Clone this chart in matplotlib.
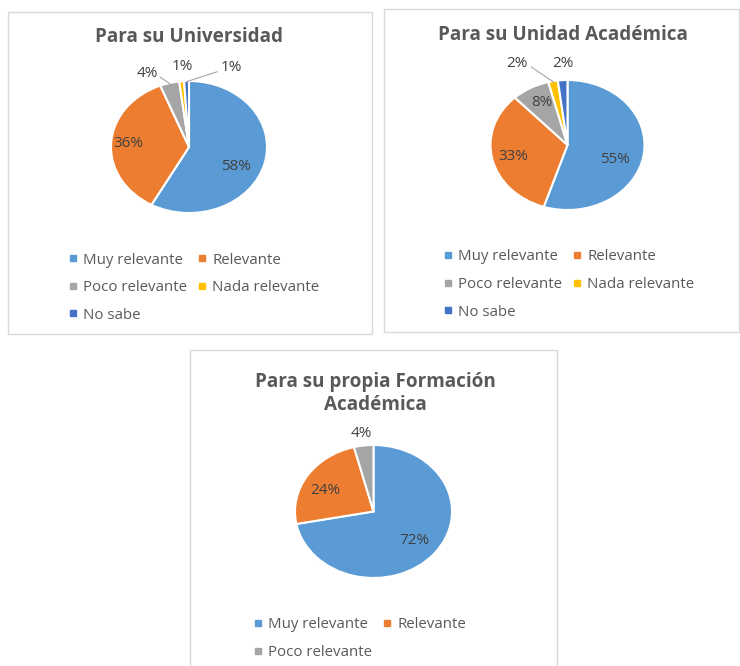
import numpy as np
import matplotlib
matplotlib.use("Agg")
import matplotlib.pyplot as plt
from matplotlib.patches import Rectangle
from matplotlib.lines import Line2D

plt.rcParams['font.family'] = ['Open Sans', 'DejaVu Sans']

# ---------------- data ----------------
categories = ["Muy relevante", "Relevante", "Poco relevante", "Nada relevante", "No sabe"]
colors = ["#5B9BD5", "#ED7D31", "#A5A5A5", "#FFC000", "#4472C4"]

titles = ["Para su Universidad",
          "Para su Unidad Académica",
          "Para su propia Formación\nAcadémica"]
universidad = [58, 36, 4, 1, 1]
unidad = [55, 33, 8, 2, 2]
formacion = [72, 24, 4]

# ---------------- layout (pixels, top-left origin) ----------------
W, H = 740, 666
TXT = "#404040"
TTL = "#595959"

panels = [
    dict(values=universidad, title=titles[0],
         box=(8, 12, 372, 334), title_xy=(189, 37),
         center=(189, 147), r=(78, 66),
         labels=[(0.60, -0.29), (-0.78, 0.05), (-0.54, 1.12), (-0.08, 1.22), (0.54, 1.20)],
         leaders=[None, None, (-0.37, 1.06), None, (0.36, 1.14)],
         legend=(69, 252.5)),
    dict(values=unidad, title=titles[1],
         box=(384, 9, 739, 332), title_xy=(563, 35),
         center=(567.5, 145), r=(77, 65),
         labels=[(0.62, -0.22), (-0.71, -0.17), (-0.33, 0.66), (-0.66, 1.26), (-0.06, 1.26)],
         leaders=[None, None, None, (-0.47, 1.20), None],
         legend=(444, 249.5)),
    dict(values=formacion, title=titles[2],
         box=(190, 350, 557, 700), title_xy=(375, 393.5),
         center=(373.5, 511.5), r=(78.5, 66.5),
         labels=[(0.52, -0.44), (-0.61, 0.32), (-0.15, 1.18)],
         leaders=[None, None, None],
         legend=(254, 617.5)),
]

fig = plt.figure(figsize=(W / 100, H / 100), dpi=100)


def frac_rect(x0, y0, x1, y1):
    return [x0 / W, 1 - y1 / H, (x1 - x0) / W, (y1 - y0) / H]


LIM = 1.3
for p in panels:
    x0, y0, x1, y1 = p["box"]
    fig.patches.append(Rectangle((x0 / W, 1 - y1 / H), (x1 - x0) / W, (y1 - y0) / H,
                                 transform=fig.transFigure, fill=False,
                                 edgecolor="#D9D9D9", linewidth=1.0))
    tx, ty = p["title_xy"]
    fig.text(tx / W, 1 - ty / H, p["title"], ha="center", va="center",
             fontsize=13.6, fontweight="bold", color=TTL, linespacing=1.2)

    cx, cy = p["center"]
    rx, ry = p["r"]
    ax = fig.add_axes(frac_rect(cx - LIM * rx, cy - LIM * ry, cx + LIM * rx, cy + LIM * ry))
    vals = p["values"]
    n = len(vals)
    wedges, _ = ax.pie(vals, colors=colors[:n], startangle=90, counterclock=False,
                       wedgeprops=dict(edgecolor="white", linewidth=1.5))
    ax.set_aspect("auto")
    ax.set_xlim(-LIM, LIM)
    ax.set_ylim(-LIM, LIM)
    ax.axis("off")

    for w, v, (lx, ly), ld in zip(wedges, vals, p["labels"], p["leaders"]):
        ax.text(lx, ly, f"{v}%", ha="center", va="center", fontsize=11, color=TXT)
        if ld is not None:
            mid = np.deg2rad((w.theta1 + w.theta2) / 2)
            ax.plot([ld[0], np.cos(mid) * 0.99], [ld[1], np.sin(mid) * 0.99],
                    color="#A6A6A6", linewidth=0.8)

    handles = [Line2D([], [], marker="s", linestyle="none", markersize=5,
                      color=colors[i], label=categories[i]) for i in range(n)]
    order = list(range(0, n, 2)) + list(range(1, n, 2))
    lx, ly = p["legend"]
    fig.legend([handles[i] for i in order], [categories[i] for i in order],
               ncol=2, loc="upper left", bbox_to_anchor=(lx / W, 1 - ly / H),
               bbox_transform=fig.transFigure, frameon=False, borderpad=0,
               borderaxespad=0, handlelength=0.55, handletextpad=0.4,
               columnspacing=0.72, labelspacing=0.84, fontsize=10.8,
               labelcolor=TTL)

fig.savefig("out.png", dpi=100)
